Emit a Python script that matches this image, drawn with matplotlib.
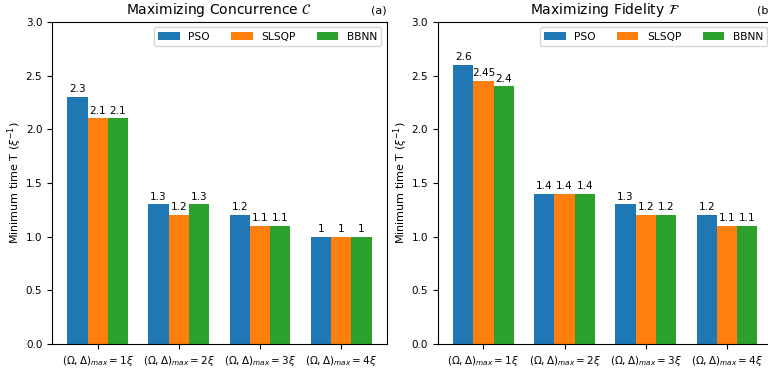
import numpy as np
import matplotlib.pyplot as plt

plt.rcParams['font.size'] = 7.5
plt.rcParams['axes.titlesize'] = 10
plt.rcParams['axes.labelsize'] = 8
plt.rcParams['legend.fontsize'] = 7.7

groups = [r'$(\Omega,\Delta)_{max}=1\xi$', r'$(\Omega,\Delta)_{max}=2\xi$',
          r'$(\Omega,\Delta)_{max}=3\xi$', r'$(\Omega,\Delta)_{max}=4\xi$']
methods = ['PSO', 'SLSQP', 'BBNN']

# minimum time for maximizing concurrence
conc_pso = [2.3, 1.3, 1.2, 1.0]
conc_slsqp = [2.1, 1.2, 1.1, 1.0]
conc_bbnn = [2.1, 1.3, 1.1, 1.0]

# minimum time for maximizing fidelity
fid_pso = [2.6, 1.4, 1.3, 1.2]
fid_slsqp = [2.45, 1.4, 1.2, 1.1]
fid_bbnn = [2.4, 1.4, 1.2, 1.1]

fig = plt.figure(figsize=(7.68, 3.71), dpi=100)
ax1 = fig.add_axes([0.0677, 0.073, 0.436, 0.868])
ax2 = fig.add_axes([0.570, 0.073, 0.436, 0.868])

x = np.arange(len(groups))
width = 0.25


def draw(ax, series, title, tag):
    for i, (name, vals) in enumerate(zip(methods, series)):
        bars = ax.bar(x + (i - 1) * width, vals, width, label=name)
        ax.bar_label(bars, padding=2)
    ax.set_ylim(0, 3.0)
    ax.set_xticks(x)
    ax.set_xticklabels(groups)
    ax.set_ylabel(r'Minimum time T ($\xi^{-1}$)', labelpad=1)
    ax.set_title(title)
    ax.set_title(tag, loc='right', fontsize=8)
    ax.legend(loc='upper right', ncol=3)


draw(ax1, [conc_pso, conc_slsqp, conc_bbnn], r'Maximizing Concurrence $\mathcal{C}$', '(a)')
draw(ax2, [fid_pso, fid_slsqp, fid_bbnn], r'Maximizing Fidelity $\mathcal{F}$', '(b)')

fig.savefig('out.png', dpi=100)
